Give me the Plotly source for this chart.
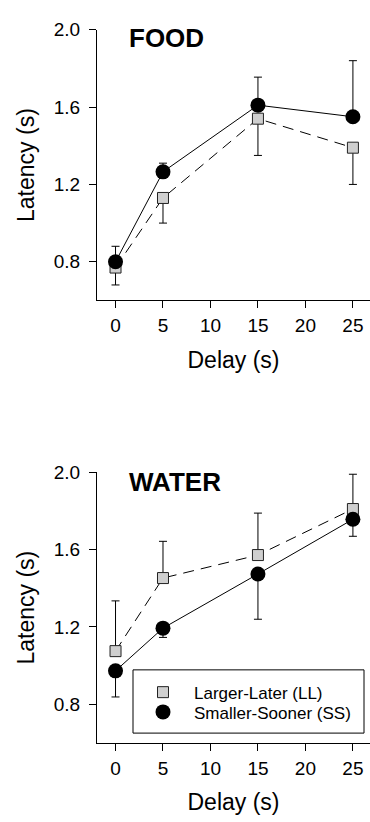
import plotly.graph_objects as go

delays = [0, 5, 15, 25]

food_ll = [0.77, 1.13, 1.54, 1.39]
food_ll_err = [0.09, 0.13, 0.19, 0.19]      # downward
food_ss = [0.80, 1.265, 1.61, 1.55]
food_ss_err = [0.08, 0.045, 0.145, 0.29]    # upward

water_ll = [1.075, 1.453, 1.572, 1.81]
water_ll_err = [0.26, 0.19, 0.217, 0.18]    # upward
water_ss = [0.973, 1.194, 1.474, 1.757]
water_ss_err = [0.135, 0.048, 0.234, 0.088] # downward

x_ticks = [0, 5, 10, 15, 20, 25]
y_ticks = [0.8, 1.2, 1.6, 2.0]
panel_titles = ["FOOD", "WATER"]
legend_names = ["Larger-Later (LL)", "Smaller-Sooner (SS)"]

FONT = "Liberation Sans, Arial, sans-serif"
sq_marker = dict(symbol="square", size=11, color="#cfcfcf", line=dict(color="#222", width=1))
ci_marker = dict(symbol="circle", size=15, color="black", line=dict(color="black", width=0))

fig = go.Figure()

def add_panel(xa, ya, ll, ll_err, ss, ss_err, ll_up):
    zeros = [0] * len(delays)
    fig.add_trace(go.Scatter(
        x=delays, y=ll, mode="lines+markers", xaxis=xa, yaxis=ya, showlegend=False,
        line=dict(color="black", width=1, dash="11px,7px"), marker=sq_marker,
        error_y=dict(type="data", symmetric=False,
                     array=ll_err if ll_up else zeros,
                     arrayminus=zeros if ll_up else ll_err,
                     color="black", thickness=1, width=4)))
    fig.add_trace(go.Scatter(
        x=delays, y=ss, mode="lines+markers", xaxis=xa, yaxis=ya, showlegend=False,
        line=dict(color="black", width=1), marker=ci_marker,
        error_y=dict(type="data", symmetric=False,
                     array=zeros if ll_up else ss_err,
                     arrayminus=ss_err if ll_up else zeros,
                     color="black", thickness=1, width=4)))

add_panel("x", "y", food_ll, food_ll_err, food_ss, food_ss_err, ll_up=False)
add_panel("x2", "y2", water_ll, water_ll_err, water_ss, water_ss_err, ll_up=True)

# legend-only entries (markers only), one per legend for precise spacing
fig.add_trace(go.Scatter(x=[None], y=[None], mode="markers", marker=sq_marker,
                         name=legend_names[0], xaxis="x2", yaxis="y2", legend="legend"))
fig.add_trace(go.Scatter(x=[None], y=[None], mode="markers", marker=ci_marker,
                         name=legend_names[1], xaxis="x2", yaxis="y2", legend="legend2"))

W, H = 370, 822
def ydom(top_px, bot_px):
    return [1 - bot_px / H, 1 - top_px / H]

xdom = [97 / W, 1.0]
axis_common = dict(showline=True, linecolor="black", linewidth=1, ticks="outside",
                   ticklen=7, tickcolor="black", tickwidth=1, showgrid=False, zeroline=False,
                   tickfont=dict(family=FONT, size=19, color="black"), mirror=False)

xcommon = dict(axis_common, range=[-1.95, 26.8], tickvals=x_ticks, ticklabelstandoff=1,
               title=dict(text="Delay (s)", font=dict(family=FONT, size=23, color="black"), standoff=16))
ycommon = dict(axis_common, range=[0.6, 2.0], tickvals=y_ticks, tickformat=".1f", ticklabelstandoff=5,
               title=dict(text="Latency (s)", font=dict(family=FONT, size=23, color="black"), standoff=12))

leg_common = dict(xanchor="left", yanchor="middle", bgcolor="rgba(0,0,0,0)", borderwidth=0,
                  font=dict(family=FONT, size=17, color="black"), itemwidth=52)

fig.update_layout(
    width=W, height=H, margin=dict(l=0, r=0, t=0, b=0),
    paper_bgcolor="white", plot_bgcolor="white",
    font=dict(family=FONT, color="black"),
    xaxis=dict(xcommon, domain=xdom, anchor="y"),
    yaxis=dict(ycommon, domain=ydom(20, 294), anchor="x"),
    xaxis2=dict(xcommon, domain=xdom, anchor="y2"),
    yaxis2=dict(ycommon, domain=ydom(468, 742), anchor="x2"),
    legend=dict(leg_common, x=132 / W, y=1 - 691 / H),
    legend2=dict(leg_common, x=132 / W, y=1 - 711 / H),
    showlegend=True,
)

# legend frame
fig.add_shape(type="rect", xref="paper", yref="paper",
              x0=133 / W, x1=364 / W, y0=1 - 732 / H, y1=1 - 668 / H,
              line=dict(color="black", width=1), fillcolor="white", layer="below")

fig.add_annotation(text="<b>" + panel_titles[0] + "</b>", xref="paper", yref="paper",
                   x=127 / W, y=1 - 28.5 / H, xanchor="left", yanchor="middle", showarrow=False,
                   font=dict(family=FONT, size=26, color="black"))
fig.add_annotation(text="<b>" + panel_titles[1] + "</b>", xref="paper", yref="paper",
                   x=127 / W, y=1 - 478 / H, xanchor="left", yanchor="middle", showarrow=False,
                   font=dict(family=FONT, size=26, color="black"))

fig.write_html("out.html")
